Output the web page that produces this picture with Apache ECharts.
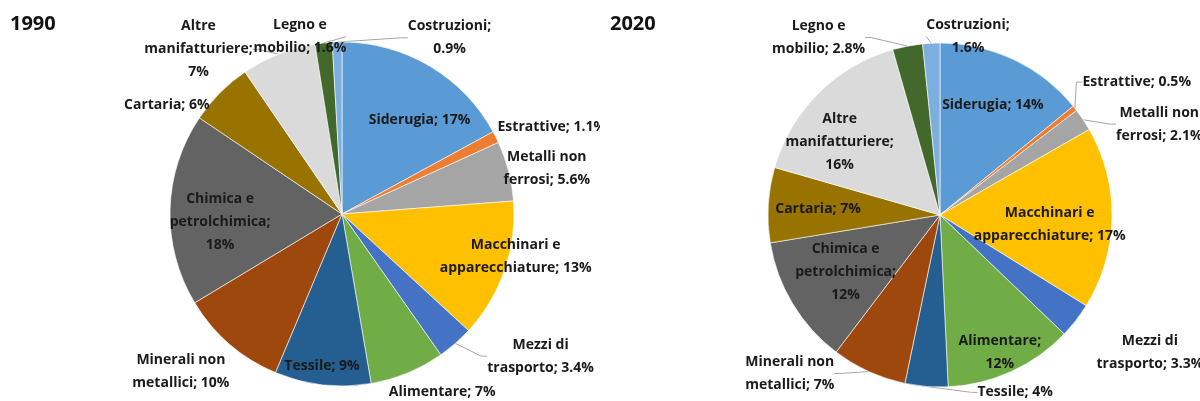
<!DOCTYPE html>
<html>
<head>
<meta charset="utf-8">
<script src="https://cdn.jsdelivr.net/npm/echarts@6/dist/echarts.min.js"></script>
<style>
  html, body { margin: 0; padding: 0; background: #ffffff; }
  .wrap { position: relative; width: 1200px; height: 401px; }
  .pie { position: absolute; top: 0; width: 600px; height: 401px; }
</style>
</head>
<body>
<div class="wrap">
  <div id="chart1990" class="pie" style="left: 0"></div>
  <div id="chart2020" class="pie" style="left: 600px"></div>
</div>
<script>
// categories, clockwise from 12 o'clock
const categories = [
  "Siderugia",
  "Estrattive",
  "Metalli non ferrosi",
  "Macchinari e apparecchiature",
  "Mezzi di trasporto",
  "Alimentare",
  "Tessile",
  "Minerali non metallici",
  "Chimica e petrolchimica",
  "Cartaria",
  "Altre manifatturiere",
  "Legno e mobilio",
  "Costruzioni",
];
const values1990 = [17, 1.1, 5.6, 13, 3.4, 7, 9, 10, 18, 6, 7, 1.6, 0.9];
const values2020 = [14, 0.5, 2.1, 17, 3.3, 12, 4, 7, 12, 7, 16, 2.8, 1.6];

const colors = [
  "#5b9bd5", "#ed7d31", "#a5a5a5", "#ffc000", "#4472c4", "#70ad47",
  "#255e91", "#9e480e", "#636363", "#997300", "#dadada", "#43682b", "#7cafdd",
];

// where the name is wrapped
const wrapped = {
  "Metalli non ferrosi": "Metalli non\nferrosi",
  "Macchinari e apparecchiature": "Macchinari e\napparecchiature",
  "Mezzi di trasporto": "Mezzi di\ntrasporto",
  "Minerali non metallici": "Minerali non\nmetallici",
  "Chimica e petrolchimica": "Chimica e\npetrolchimica",
  "Altre manifatturiere": "Altre\nmanifatturiere",
  "Legno e mobilio": "Legno e\nmobilio",
};

// label placement: f = distance / radius, dA = angle shift from slice middle,
// br = value on its own line, line = leader line
const layout1990 = {
  "Siderugia": { f: 0.71, dA: 8.7 },
  "Estrattive": { f: 1.32, dA: 4.1 },
  "Metalli non ferrosi": { f: 1.22, dA: 1.8 },
  "Macchinari e apparecchiature": { f: 1.04, dA: -5.3 },
  "Mezzi di trasporto": { f: 1.42, dA: -13.2, line: true },
  "Alimentare": { f: 1.19, dA: -6.9 },
  "Tessile": { f: 0.89, dA: 1 },
  "Minerali non metallici": { f: 1.31, dA: 4.8 },
  "Chimica e petrolchimica": { f: 0.71, dA: -5.2, br: true },
  "Cartaria": { f: 1.2, dA: -12.9 },
  "Altre manifatturiere": { f: 1.27, dA: -19.4, br: true, line: true },
  "Legno e mobilio": { f: 1.06, dA: -7.2, line: true },
  "Costruzioni": { f: 1.2, dA: 33, br: true, line: true },
};
const layout2020 = {
  "Siderugia": { f: 0.71, dA: 0.3 },
  "Estrattive": { f: 1.38, dA: 4.3, line: true },
  "Metalli non ferrosi": { f: 1.38, dA: 11.1, line: true },
  "Macchinari e apparecchiature": { f: 0.64, dA: 4.2 },
  "Mezzi di trasporto": { f: 1.46, dA: -4.5 },
  "Alimentare": { f: 0.87, dA: 0.9, br: true },
  "Tessile": { f: 1.12, dA: -27.5, line: true },
  "Minerali non metallici": { f: 1.27, dA: 19, line: true },
  "Chimica e petrolchimica": { f: 0.64, dA: 0.1, br: true },
  "Cartaria": { f: 0.71, dA: -0.5 },
  "Altre manifatturiere": { f: 0.72, dA: -9.2, br: true },
  "Legno e mobilio": { f: 1.25, dA: -23.5, line: true },
  "Costruzioni": { f: 1.05, dA: 11.8, br: true, line: true },
};

const FONT = "'Open Sans', sans-serif";

function drawPie(domId, year, values, cfg, cx, cy, r) {
  const chart = echarts.init(document.getElementById(domId));
  const total = values.reduce((a, b) => a + b, 0);
  const mids = [];
  let acc = 0;
  values.forEach((v) => {
    mids.push(((acc + v / 2) / total) * 360);
    acc += v;
  });

  const data = categories.map((name, i) => ({
    name: name,
    value: values[i],
    itemStyle: { color: colors[i] },
    labelLine: { show: !!cfg[name].line },
  }));

  const option = {
    animation: false,
    title: {
      text: year,
      left: 5,
      top: 9,
      textStyle: { fontFamily: FONT, fontSize: 20, fontWeight: "bold", color: "#111" },
    },
    series: [
      {
        type: "pie",
        center: [cx, cy],
        radius: r,
        startAngle: 90,
        clockwise: true,
        avoidLabelOverlap: false,
        data: data,
        itemStyle: { borderColor: "#ffffff", borderWidth: 0.6 },
        label: {
          position: "outside",
          overflow: "none",
          fontFamily: FONT,
          fontSize: 14,
          fontWeight: "bold",
          lineHeight: 23,
          color: "#1a1a1a",
          formatter: (p) => {
            const c = cfg[p.name];
            return (wrapped[p.name] || p.name) + (c.br ? ";\n" : "; ") + p.value + "%";
          },
        },
        labelLine: {
          length: 10,
          length2: 6,
          lineStyle: { color: "#a6a6a6", width: 1 },
        },
        labelLayout: (params) => {
          const name = categories[params.dataIndex];
          const c = cfg[name];
          const a = ((mids[params.dataIndex] + c.dA) * Math.PI) / 180;
          return {
            x: cx + c.f * r * Math.sin(a),
            y: cy - c.f * r * Math.cos(a),
            align: "center",
            verticalAlign: "middle",
          };
        },
      },
    ],
  };

  chart.setOption(option);
  window.addEventListener("resize", () => {
    chart.resize();
  });
}

drawPie("chart1990", "1990", values1990, layout1990, 342, 214, 172);
drawPie("chart2020", "2020", values2020, layout2020, 340, 215, 172);
</script>
</body>
</html>
